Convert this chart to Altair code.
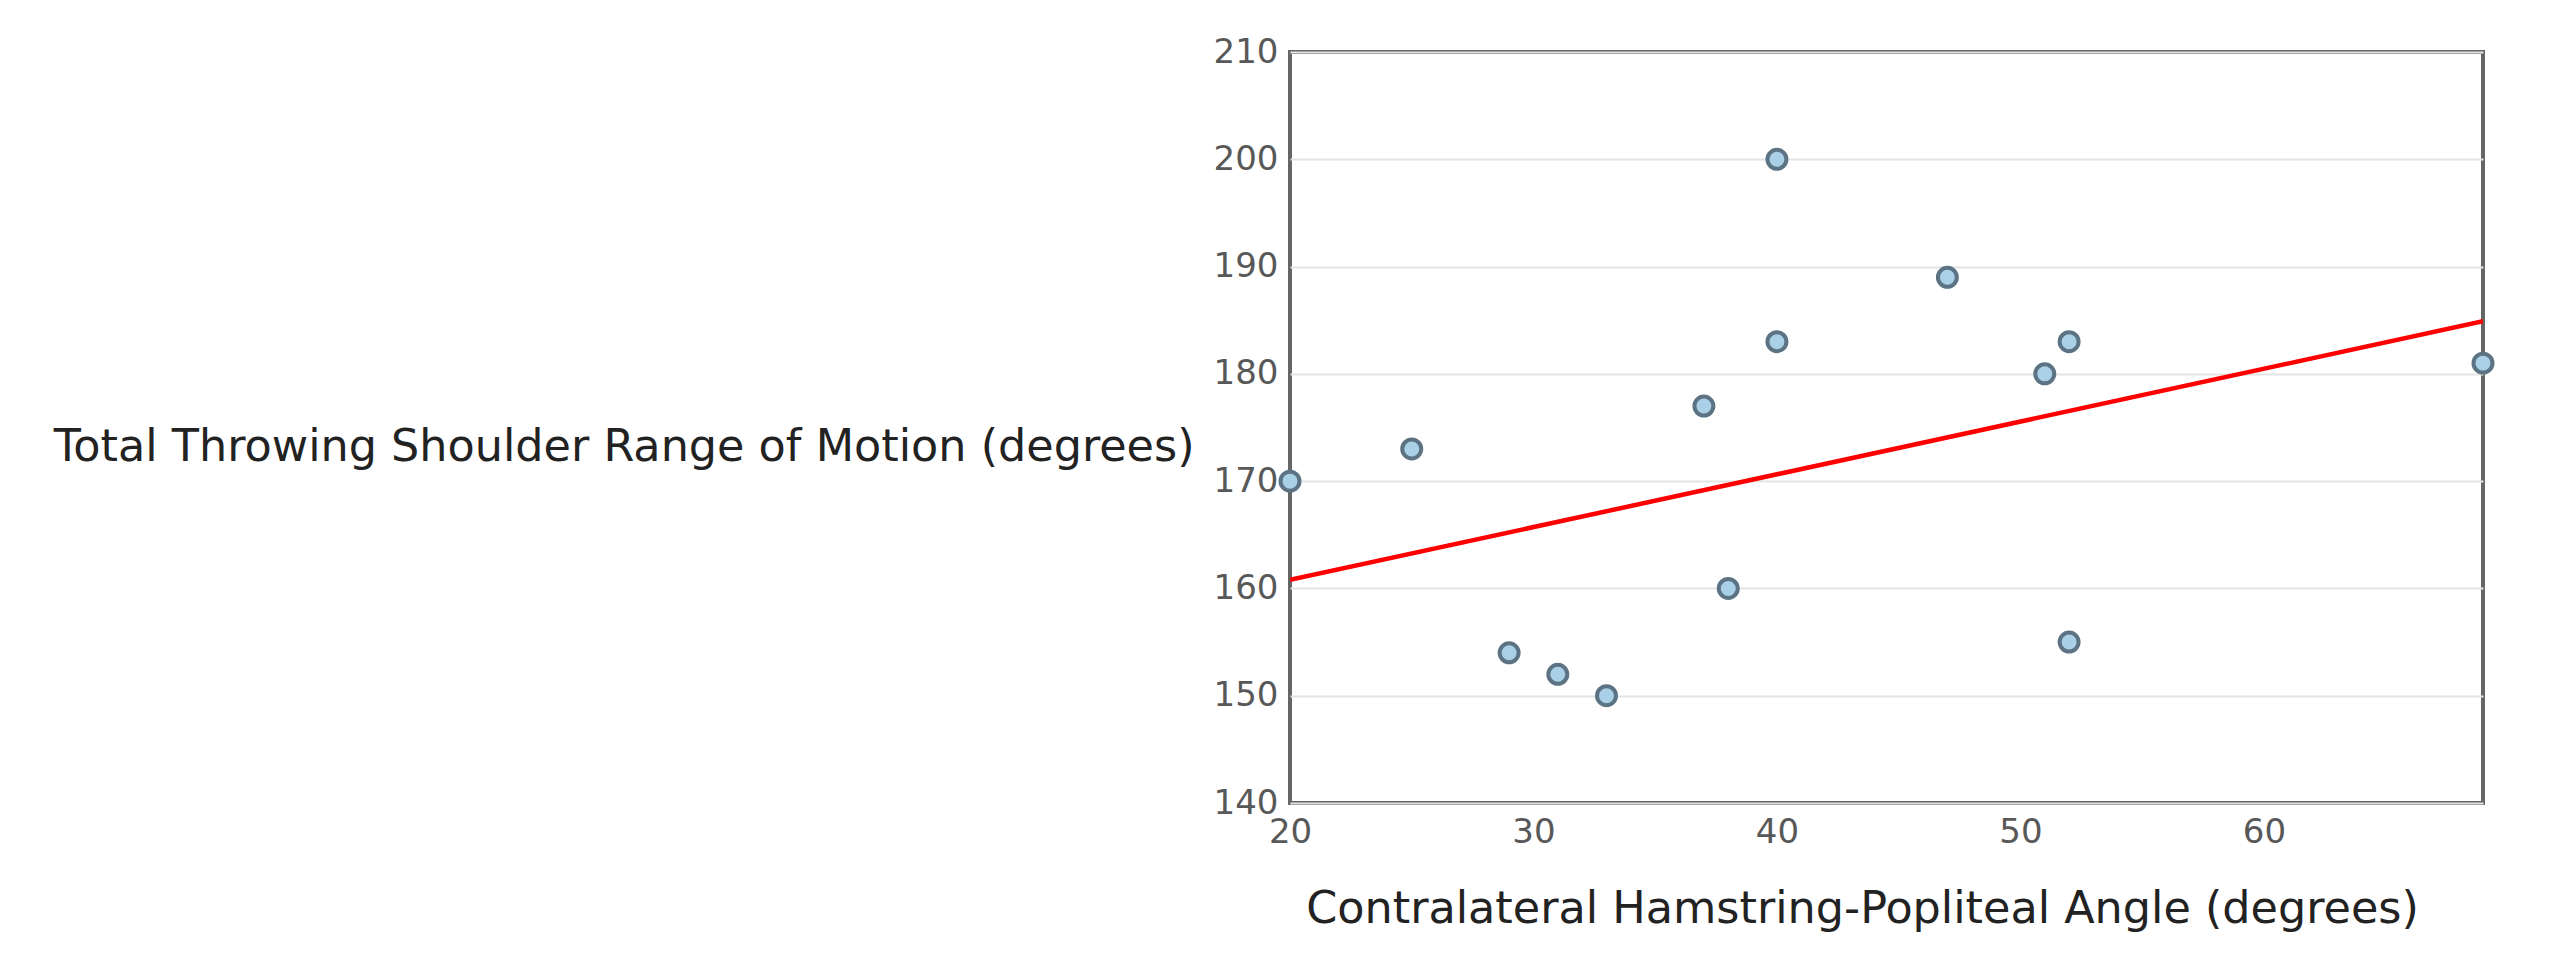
import altair as alt
import pandas as pd

# Data
hamstring_angle = [20, 25, 29, 31, 33, 37, 38, 40, 40, 47, 51, 52, 52, 69]
shoulder_rom = [170, 173, 154, 152, 150, 177, 160, 200, 183, 189, 180, 183, 155, 181]

fit_x = [20, 69]
fit_y = [160.8, 184.9]

y_ticks = [140, 150, 160, 170, 180, 190, 200, 210]
x_ticks = [20, 30, 40, 50, 60]

pts = pd.DataFrame({"x": hamstring_angle, "y": shoulder_rom})
fit = pd.DataFrame({"x": fit_x, "y": fit_y})

FONT = "DejaVu Sans"

x_scale = alt.Scale(domain=[20, 69], nice=False, zero=False)
y_scale = alt.Scale(domain=[140, 210], nice=False, zero=False)

x_axis = alt.Axis(
    title="Contralateral Hamstring-Popliteal Angle (degrees)",
    values=x_ticks,
    grid=False,
    ticks=False,
    domain=False,
    labelFont=FONT,
    labelFontSize=34,
    labelColor="#585858",
    labelPadding=12,
    labelFlush=False,
    titleFont=FONT,
    titleFontSize=44.5,
    titleFontWeight="normal",
    titleColor="#222222",
    titleBaseline="alphabetic",
    titleAlign="center",
    titleX=572,
    titleY=119,
)

y_axis = alt.Axis(
    title="Total Throwing Shoulder Range of Motion (degrees)",
    values=y_ticks,
    grid=True,
    gridColor="#e4e4e4",
    gridWidth=2,
    ticks=False,
    domain=False,
    labelFont=FONT,
    labelFontSize=34,
    labelColor="#585858",
    labelPadding=12,
    labelFlush=False,
    titleFont=FONT,
    titleFontSize=44.5,
    titleFontWeight="normal",
    titleColor="#222222",
    titleAngle=0,
    titleAlign="right",
    titleBaseline="alphabetic",
    titleX=-96,
    titleY=408,
)

line = alt.Chart(fit).mark_line(color="#ff0000", strokeWidth=4.5, clip=True).encode(
    x=alt.X("x:Q", scale=x_scale, axis=x_axis),
    y=alt.Y("y:Q", scale=y_scale, axis=y_axis),
)

points = alt.Chart(pts).mark_point(
    shape="circle",
    filled=True,
    size=360,
    fill="#a9d0e6",
    stroke="#5c7384",
    strokeWidth=4,
    opacity=1,
).encode(
    x=alt.X("x:Q", scale=x_scale),
    y=alt.Y("y:Q", scale=y_scale),
)

chart = (
    alt.layer(line, points)
    .properties(
        width=1193,
        height=751,
        autosize=alt.AutoSizeParams(type="none"),
        padding={"left": 1282, "top": 44, "right": 60, "bottom": 150},
        background="white",
    )
    .configure_view(stroke="#666666", strokeWidth=4)
)

chart.save("out.html", embed_options={"renderer": "svg", "actions": False})
